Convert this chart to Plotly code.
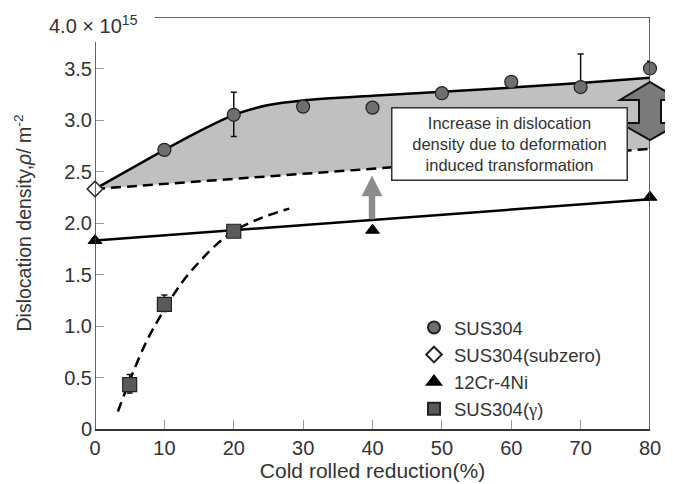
import plotly.graph_objects as go

# ---- data ----
sus304_x = [10, 20, 30, 40, 50, 60, 70, 80]
sus304_y = [2.71, 3.05, 3.13, 3.12, 3.26, 3.37, 3.32, 3.50]
sus304_err_plus = [0, 0.22, 0, 0.04, 0, 0, 0.32, 0.07]
sus304_err_minus = [0, 0.21, 0, 0.04, 0, 0, 0.0, 0.0]

subzero_x = [0]
subzero_y = [2.33]

cr12_x = [0, 40, 80]
cr12_y = [1.83, 1.93, 2.25]

gamma_x = [5, 10, 20]
gamma_y = [0.43, 1.21, 1.92]
gamma_err_plus = [0.1, 0.09, 0]
gamma_err_minus = [0.08, 0.07, 0]

# fitted guide curves
env_x = [0, 5, 10, 15, 20, 25, 30, 40, 50, 60, 70, 80]
env_upper = [2.33, 2.52, 2.71, 2.89, 3.05, 3.145, 3.19, 3.235, 3.275, 3.315, 3.36, 3.41]
env_lower = [2.33, 2.355, 2.38, 2.405, 2.43, 2.455, 2.48, 2.53, 2.58, 2.625, 2.67, 2.72]

cr12_fit_x = [0, 80]
cr12_fit_y = [1.83, 2.23]

gamma_fit_x = [3.3, 5, 7.5, 10, 12.5, 15, 17.5, 20, 24, 28]
gamma_fit_y = [0.17, 0.47, 0.86, 1.16, 1.42, 1.62, 1.79, 1.92, 2.05, 2.14]

x_ticks = [0, 10, 20, 30, 40, 50, 60, 70, 80]
y_ticks = [0, 0.5, 1.0, 1.5, 2.0, 2.5, 3.0, 3.5]
y_tick_labels = ["0", "0.5", "1.0", "1.5", "2.0", "2.5", "3.0", "3.5"]

FONT = "Arial, Liberation Sans, sans-serif"
TXT = "#333333"
DASH = "10px,6px"

fig = go.Figure()

# envelope fill
fig.add_trace(go.Scatter(x=env_x, y=env_lower, mode="lines",
                         line=dict(color="black", width=2.5, dash=DASH),
                         showlegend=False, hoverinfo="skip"))
fig.add_trace(go.Scatter(x=env_x, y=env_upper, mode="lines", fill="tonexty",
                         fillcolor="#c0c0c0",
                         line=dict(color="black", width=2.5, shape="spline", smoothing=0.7),
                         showlegend=False, hoverinfo="skip"))
fig.add_trace(go.Scatter(x=cr12_fit_x, y=cr12_fit_y, mode="lines",
                         line=dict(color="black", width=2.5),
                         showlegend=False, hoverinfo="skip"))
fig.add_trace(go.Scatter(x=gamma_fit_x, y=gamma_fit_y, mode="lines",
                         line=dict(color="black", width=2.5, dash=DASH, shape="spline"),
                         showlegend=False, hoverinfo="skip"))

# data markers
fig.add_trace(go.Scatter(x=sus304_x, y=sus304_y, mode="markers", name="SUS304",
                         marker=dict(symbol="circle", size=13, color="#6f6f6f",
                                     line=dict(color="#222", width=1.2)),
                         error_y=dict(type="data", array=sus304_err_plus,
                                      arrayminus=sus304_err_minus, color="#111",
                                      thickness=1.5, width=3),
                         cliponaxis=False))
fig.add_trace(go.Scatter(x=subzero_x, y=subzero_y, mode="markers", name="SUS304(subzero)",
                         marker=dict(symbol="diamond", size=12, color="white",
                                     line=dict(color="#222", width=1.5)),
                         cliponaxis=False))
fig.add_trace(go.Scatter(x=cr12_x, y=cr12_y, mode="markers", name="12Cr-4Ni",
                         marker=dict(symbol="triangle-up", size=12, color="black",
                                     line=dict(color="black", width=1)),
                         cliponaxis=False))
fig.add_trace(go.Scatter(x=gamma_x, y=gamma_y, mode="markers",
                         name="SUS304(<span style='font-family:Liberation Serif, Times New Roman, serif'>γ</span>)",
                         marker=dict(symbol="square", size=14, color="#5a5a5a",
                                     line=dict(color="#222", width=1.2)),
                         error_y=dict(type="data", array=gamma_err_plus,
                                      arrayminus=gamma_err_minus, color="#111",
                                      thickness=1.5, width=3),
                         cliponaxis=False))

# page body margin offset of 8px compensated
OFF = 8
W, H = 673 - OFF, 484 - OFF
L, R, T, B = 95 - OFF, 23, 17 - OFF, 55
pw, ph = W - L - R, H - T - B


def px(xp):
    # page pixel x -> paper
    return (xp - OFF - L) / pw


def py(yp):
    # page pixel y -> paper
    return (OFF + H - B - yp) / ph


shapes = []
# left axis line (stops below 4.0)
shapes.append(dict(type="line", xref="x", yref="y", x0=0, x1=0, y0=0, y1=3.76,
                   line=dict(color="#333", width=1.5)))
# top border
shapes.append(dict(type="line", xref="x", yref="y", x0=8.6, x1=80, y0=4.0, y1=4.0,
                   line=dict(color="#333", width=1.5)))
# right border
shapes.append(dict(type="line", xref="x", yref="y", x0=80, x1=80, y0=0, y1=4.0,
                   line=dict(color="#333", width=1.5)))

# gray up arrow at x=40 (pixel based)
cx, ytip, yneck, ybot = 372, 176, 196, 219
up_path = (f"M {px(cx-3)} {py(ybot)} L {px(cx-3)} {py(yneck)} L {px(cx-10)} {py(yneck)} "
           f"L {px(cx)} {py(ytip)} L {px(cx+10)} {py(yneck)} L {px(cx+3)} {py(yneck)} "
           f"L {px(cx+3)} {py(ybot)} Z")
shapes.append(dict(type="path", xref="paper", yref="paper", path=up_path,
                   fillcolor="#8c8c8c", line=dict(color="#8c8c8c", width=0.5)))

# double arrow at x=80
cx = 650
top, h1, h2, bot = 82, 100, 123, 140
sw, hw = 11, 30
dpath = (f"M {px(cx)} {py(top)} L {px(cx+hw)} {py(h1)} L {px(cx+sw)} {py(h1)} "
         f"L {px(cx+sw)} {py(h2)} L {px(cx+hw)} {py(h2)} L {px(cx)} {py(bot)} "
         f"L {px(cx-hw)} {py(h2)} L {px(cx-sw)} {py(h2)} L {px(cx-sw)} {py(h1)} "
         f"L {px(cx-hw)} {py(h1)} Z")
shapes.append(dict(type="path", xref="paper", yref="paper", path=dpath,
                   fillcolor="#7a7a7a", line=dict(color="#111", width=2)))

annotations = [
    dict(xref="paper", yref="paper", x=px(47), y=py(25), xanchor="left", yanchor="middle",
         text="4.0 × 10<sup>15</sup>", showarrow=False,
         font=dict(family=FONT, size=20, color=TXT)),
    dict(xref="paper", yref="paper", x=px(509), y=py(144), xanchor="center", yanchor="middle",
         text="Increase in dislocation<br>density due to deformation<br>induced transformation",
         showarrow=False, align="center", bgcolor="white", bordercolor="#333",
         borderwidth=1.5, borderpad=5, width=224,
         font=dict(family=FONT, size=16.5, color=TXT)),
]

fig.update_layout(
    width=W, height=H,
    margin=dict(l=L, r=R, t=T, b=B),
    paper_bgcolor="white", plot_bgcolor="white",
    font=dict(family=FONT, color=TXT, size=20),
    shapes=shapes, annotations=annotations,
    legend=dict(x=px(414), y=py(309), xanchor="left", yanchor="top",
                bgcolor="rgba(0,0,0,0)", font=dict(size=18.5, color=TXT),
                itemsizing="constant", traceorder="normal", tracegroupgap=0),
    xaxis=dict(range=[0, 80], tickvals=x_ticks, ticks="inside", ticklen=9,
               tickcolor="#999", showline=True, linecolor="#333", linewidth=1.5,
               showgrid=False, zeroline=False, automargin=False,
               tickfont=dict(size=20, color=TXT),
               title=dict(text="Cold rolled reduction(%)", font=dict(size=21, color=TXT),
                          standoff=3)),
    yaxis=dict(range=[0, 4.0], tickvals=y_ticks, ticktext=y_tick_labels,
               ticks="inside", ticklen=9, tickcolor="#999", showline=False,
               showgrid=False, zeroline=False, automargin=False,
               tickfont=dict(size=20, color=TXT), ticklabelstandoff=2,
               title=dict(text="Dislocation density,<i>ρ</i>/ m<sup>-2</sup>",
                          font=dict(size=19.5, color=TXT), standoff=27)),
)

fig.write_html("out.html")
